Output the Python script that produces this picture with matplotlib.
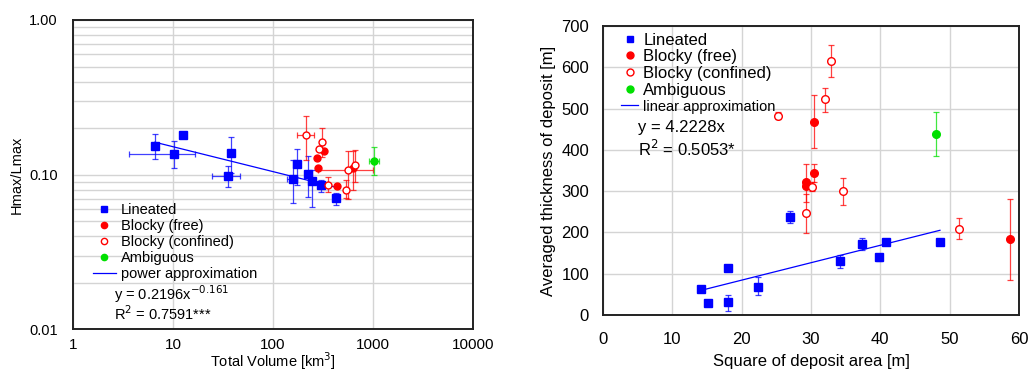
import numpy as np
import matplotlib
matplotlib.use("Agg")
import matplotlib.pyplot as plt
from matplotlib.lines import Line2D

plt.rcParams['font.family'] = ['Liberation Sans', 'DejaVu Sans']

BLUE = '#0000ff'
RED = '#ff0000'
GREEN = '#00e000'

# ---- left panel: Hmax/Lmax vs total volume (log-log) ----
# lineated: x, y, x low/high, y low/high (nan = no error bar)
lin_vol = [6.6, 12.5, 10.2, 37.7, 35.2, 157, 175, 226, 247, 300, 427]
lin_hl = [0.153, 0.180, 0.136, 0.139, 0.0985, 0.094, 0.117, 0.101, 0.0915, 0.0858, 0.071]
lin_vol_lo = [np.nan, np.nan, 3.64, np.nan, 24.5, 139, np.nan, np.nan, np.nan, np.nan, np.nan]
lin_vol_hi = [np.nan, np.nan, 16.7, np.nan, 46.6, 175, np.nan, np.nan, np.nan, np.nan, np.nan]
lin_hl_lo = [0.126, np.nan, 0.110, 0.102, 0.083, 0.066, 0.086, 0.072, 0.062, 0.077, 0.064]
lin_hl_hi = [0.182, np.nan, 0.166, 0.176, 0.113, 0.125, 0.146, 0.131, 0.107, 0.093, 0.076]

free_vol = [273, 324, 282, 440, 626]
free_hl = [0.128, 0.142, 0.110, 0.0845, 0.110]
free_hl_lo = [np.nan, np.nan, np.nan, np.nan, 0.080]
free_hl_hi = [np.nan, np.nan, np.nan, np.nan, 0.143]

conf_vol = [214, 307, 288, 358, 537, 567, 665]
conf_hl = [0.180, 0.163, 0.146, 0.0858, 0.0796, 0.107, 0.1155]
conf_vol_lo = [174, np.nan, np.nan, np.nan, np.nan, 282, np.nan]
conf_vol_hi = [257, np.nan, np.nan, np.nan, np.nan, 993, np.nan]
conf_hl_lo = [0.124, 0.130, np.nan, 0.077, 0.0705, 0.070, 0.089]
conf_hl_hi = [0.240, 0.199, np.nan, 0.096, 0.092, 0.143, 0.144]

amb_vol = [1016]
amb_hl = [0.123]
amb_vol_lo = [912]
amb_vol_hi = [1140]
amb_hl_lo = [0.099]
amb_hl_hi = [0.150]

pow_a = 0.2196
pow_b = -0.161
pow_x = [6.6, 433]

# ---- right panel: thickness vs square of area ----
lin_sq = [14.07, 15.08, 17.96, 18.1, 22.38, 27.04, 34.25, 37.37, 39.87, 40.78, 48.66]
lin_th = [63, 28, 113, 31, 69, 237, 130, 171, 140, 178, 177]
lin_th_lo = [np.nan, np.nan, np.nan, 10, 48, 222, 113, 157, 132, 172, 172]
lin_th_hi = [np.nan, np.nan, np.nan, 49, 91, 253, 145, 186, 148, 184, 182]

free_sq = [30.45, 29.35, 29.35, 30.45, 58.7]
free_th = [468, 321, 313, 343, 183]
free_th_lo = [404, 274, np.nan, 321, 85]
free_th_hi = [533, 365, np.nan, 365, 280]

conf_sq = [25.17, 32.04, 32.85, 34.58, 30.1, 29.25, 51.4]
conf_th = [483, 522, 615, 300, 311, 246, 208]
conf_th_lo = [474, 492, 576, 267, 300, 198, 183]
conf_th_hi = [492, 551, 653, 331, 322, 293, 235]

amb_sq = [48.0]
amb_th = [438]
amb_th_lo = [386]
amb_th_hi = [491]

lin_k = 4.2228
lin_x = [14.4, 48.6]


def err(vals, lo, hi):
    vals = np.array(vals, float)
    return np.vstack([vals - np.array(lo, float), np.array(hi, float) - vals])


def series(ax, x, y, xlo, xhi, ylo, yhi, color, marker, filled, ms):
    xe = err(x, xlo, xhi) if xlo is not None else None
    ye = err(y, ylo, yhi) if ylo is not None else None
    ax.errorbar(x, y, xerr=xe, yerr=ye, fmt='none', ecolor=color, elinewidth=0.9,
                capsize=2.5, capthick=0.9, alpha=0.75, zorder=3)
    ax.plot(x, y, linestyle='none', marker=marker, markersize=ms, color=color,
            markerfacecolor=color if filled else 'white', markeredgewidth=1.0, zorder=4)


def style(ax):
    for s in ax.spines.values():
        s.set_linewidth(1.4)
        s.set_color('#222222')


fig = plt.figure(figsize=(10.29, 3.72), dpi=100)

# left
ax1 = fig.add_axes([0.0709, 0.1148, 0.3887, 0.8315])
ax1.set_xscale('log')
ax1.set_yscale('log')
ax1.set_xlim(1, 10000)
ax1.set_ylim(0.01, 1)
ax1.grid(True, which='major', axis='x', color='#d4d4d4', linewidth=1)
ax1.grid(True, which='both', axis='y', color='#d4d4d4', linewidth=1)
ax1.set_axisbelow(True)
ax1.set_xticks([1, 10, 100, 1000, 10000])
ax1.set_xticklabels(['1', '10', '100', '1000', '10000'])
ax1.set_yticks([0.01, 0.1, 1])
ax1.set_yticklabels(['0.01', '0.10', '1.00'])
ax1.yaxis.set_minor_formatter(plt.NullFormatter())
ax1.xaxis.set_minor_locator(plt.NullLocator())
ax1.tick_params(which='both', length=0)
ax1.tick_params(axis='x', labelsize=11, pad=6)
ax1.tick_params(axis='y', labelsize=10.5, pad=11)
style(ax1)

series(ax1, lin_vol, lin_hl, lin_vol_lo, lin_vol_hi, lin_hl_lo, lin_hl_hi, BLUE, 's', True, 5.5)
series(ax1, free_vol, free_hl, None, None, free_hl_lo, free_hl_hi, RED, 'o', True, 5)
series(ax1, conf_vol, conf_hl, conf_vol_lo, conf_vol_hi, conf_hl_lo, conf_hl_hi, RED, 'o', False, 5)
series(ax1, amb_vol, amb_hl, amb_vol_lo, amb_vol_hi, amb_hl_lo, amb_hl_hi, GREEN, 'o', True, 5)
px = np.array(pow_x)
ax1.plot(px, pow_a * px ** pow_b, color=BLUE, linewidth=0.9, zorder=2)

ax1.set_xlabel('Total Volume [km$^3$]', fontsize=10.5, labelpad=-1)
ax1.set_ylabel('Hmax/Lmax', fontsize=10.5, labelpad=4)

h1 = [Line2D([], [], linestyle='none', marker='s', color=BLUE, markersize=4.5),
      Line2D([], [], linestyle='none', marker='o', color=RED, markersize=4.5),
      Line2D([], [], linestyle='none', marker='o', color=RED, markerfacecolor='white', markersize=4.5),
      Line2D([], [], linestyle='none', marker='o', color=GREEN, markersize=4.5),
      Line2D([], [], color=BLUE, linewidth=0.9)]
l1 = ['Lineated', 'Blocky (free)', 'Blocky (confined)', 'Ambiguous', 'power approximation']
ax1.legend(h1, l1, loc='upper left', bbox_to_anchor=(0.05, 0.408), frameon=False,
           fontsize=10.5, handlelength=1.55, handletextpad=0.35, labelspacing=0.13,
           borderpad=0, borderaxespad=0)
ax1.text(0.1025, 0.114, 'y = 0.2196x$^{-0.161}$', transform=ax1.transAxes, fontsize=10.5, va='center')
ax1.text(0.1025, 0.05, 'R$^2$ = 0.7591***', transform=ax1.transAxes, fontsize=10.5, va='center')

# right
ax2 = fig.add_axes([0.586, 0.1532, 0.4043, 0.7769])
ax2.set_xlim(0, 60)
ax2.set_ylim(0, 700)
ax2.set_xticks(np.arange(0, 61, 10))
ax2.set_yticks(np.arange(0, 701, 100))
ax2.grid(True, color='#d4d4d4', linewidth=1)
ax2.set_axisbelow(True)
ax2.tick_params(length=0, labelsize=12)
ax2.tick_params(axis='x', pad=12)
ax2.tick_params(axis='y', pad=10)
style(ax2)

series(ax2, lin_sq, lin_th, None, None, lin_th_lo, lin_th_hi, BLUE, 's', True, 5.5)
series(ax2, free_sq, free_th, None, None, free_th_lo, free_th_hi, RED, 'o', True, 5.5)
series(ax2, conf_sq, conf_th, None, None, conf_th_lo, conf_th_hi, RED, 'o', False, 5.5)
series(ax2, amb_sq, amb_th, None, None, amb_th_lo, amb_th_hi, GREEN, 'o', True, 5.5)
lx = np.array(lin_x)
ax2.plot(lx, lin_k * lx, color=BLUE, linewidth=0.9, zorder=2)

ax2.set_xlabel('Square of deposit area [m]', fontsize=12, labelpad=5)
ax2.set_ylabel('Averaged thickness of deposit [m]', fontsize=12, labelpad=4)

h2 = [Line2D([], [], linestyle='none', marker='s', color=BLUE, markersize=5),
      Line2D([], [], linestyle='none', marker='o', color=RED, markersize=5),
      Line2D([], [], linestyle='none', marker='o', color=RED, markerfacecolor='white', markersize=5),
      Line2D([], [], linestyle='none', marker='o', color=GREEN, markersize=5),
      Line2D([], [], color=BLUE, linewidth=0.9)]
l2 = ['Lineated', 'Blocky (free)', 'Blocky (confined)', 'Ambiguous', 'linear approximation']
leg2 = ax2.legend(h2, l2, loc='upper left', bbox_to_anchor=(0.043, 0.977), frameon=False,
                  fontsize=12, handlelength=1.05, handletextpad=0.3, labelspacing=0.1,
                  borderpad=0, borderaxespad=0)
leg2.get_texts()[4].set_fontsize(10.5)
ax2.text(0.085, 0.65, 'y = 4.2228x', transform=ax2.transAxes, fontsize=12, va='center')
ax2.text(0.085, 0.575, 'R$^2$ = 0.5053*', transform=ax2.transAxes, fontsize=12, va='center')

fig.savefig('out.png', dpi=100)
